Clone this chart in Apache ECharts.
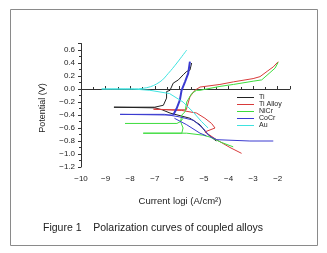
<!DOCTYPE html>
<html>
<head>
<meta charset="utf-8">
<script src="https://cdn.jsdelivr.net/npm/echarts@6/dist/echarts.min.js"></script>
<style>
  html, body { margin: 0; padding: 0; background: #fff; }
  #chart { width: 327px; height: 253px; }
</style>
</head>
<body>
<div id="chart"></div>
<script>
// [log i, E] pairs, in scan order
const tiCurve = [
  [-4.5, -0.80], [-4.89, -0.68], [-5.16, -0.55], [-5.57, -0.45], [-6.38, -0.37],
  [-6.7, -0.32], [-7.0, -0.29], [-8.66, -0.28], [-7.0, -0.28], [-6.65, -0.25],
  [-6.52, -0.14], [-6.52, -0.04], [-6.38, -0.02], [-6.25, 0.09], [-6.04, 0.14],
  [-5.84, 0.22], [-5.70, 0.27], [-5.57, 0.29], [-5.5, 0.40]
]
const tiAlloyCurve = [
  [-3.47, -0.99], [-3.94, -0.90], [-4.49, -0.78], [-4.96, -0.66], [-4.55, -0.60],
  [-4.69, -0.53], [-4.96, -0.45], [-5.30, -0.37], [-5.9, -0.33], [-7.05, -0.31],
  [-6.3, -0.32], [-5.72, -0.32], [-5.57, -0.12], [-5.37, -0.02], [-5.16, 0.03],
  [-4.35, 0.07], [-3.8, 0.11], [-3.0, 0.16], [-2.72, 0.19], [-2.4, 0.28],
  [-2.18, 0.34], [-1.98, 0.42]
]
const niCrCurve = [
  [-3.81, -0.89], [-4.3, -0.82], [-4.75, -0.74], [-5.04, -0.71], [-5.7, -0.68],
  [-7.47, -0.68], [-5.9, -0.68], [-5.85, -0.60], [-5.95, -0.50], [-5.9, -0.40],
  [-5.77, -0.35], [-5.70, -0.20], [-5.50, -0.07], [-5.30, -0.02], [-5.16, -0.02],
  [-4.35, 0.04], [-3.8, 0.07], [-3.0, 0.12], [-2.65, 0.14], [-2.35, 0.24],
  [-2.11, 0.32], [-1.98, 0.41]
]
const niCrCurve2 = [
  [-8.21, -0.53], [-6.1, -0.53], [-5.95, -0.50], [-5.85, -0.45]
]
const coCrCurve = [
  [-2.18, -0.80], [-3.13, -0.80], [-4.48, -0.78], [-4.76, -0.73], [-5.02, -0.61],
  [-5.43, -0.48], [-5.98, -0.43], [-6.6, -0.39], [-8.41, -0.39], [-6.5, -0.40],
  [-6.25, -0.40]
]
const coCrAnodic = [
  [-6.25, -0.40], [-6.11, -0.30], [-5.98, -0.17], [-5.91, -0.02], [-5.77, 0.11],
  [-5.64, 0.24], [-5.57, 0.42]
]
const coCrCurve2 = [
  [-6.2, -0.45], [-5.70, -0.55], [-5.16, -0.68], [-4.9, -0.72]
]
const auCathodic = [
  [-4.83, -0.60], [-5.1, -0.50], [-5.45, -0.35], [-5.85, -0.20], [-6.4, -0.07],
  [-7.2, -0.02], [-7.9, 0.0], [-9.16, 0.0]
]
const auAnodic = [
  [-9.16, 0.0], [-8.0, 0.0], [-7.33, 0.02], [-6.79, 0.11], [-6.45, 0.24],
  [-6.1, 0.40], [-5.70, 0.60]
]
const legendNames = ['Ti', 'Ti Alloy', 'NiCr', 'CoCr', 'Au']

const font = 'Liberation Sans, Arial, sans-serif'
const colors = { Ti: '#222222', 'Ti Alloy': '#d83a3a', NiCr: '#3ddc3d', CoCr: '#3a3ad0', Au: '#3fe3e0' }

const line = (name, data, width = 1, smooth = false) => ({
  name,
  type: 'line',
  data,
  symbol: 'none',
  smooth,
  animation: false,
  lineStyle: { color: colors[name], width },
  itemStyle: { color: colors[name] }
})

const chart = echarts.init(document.getElementById('chart'))
chart.setOption({
  animation: false,
  grid: { left: 81, right: 37, top: 43.5, bottom: 86 },
  legend: {
    data: legendNames,
    orient: 'vertical',
    left: 232,
    top: 89,
    icon: 'rect',
    itemWidth: 17,
    itemHeight: 1,
    itemGap: 0,
    textStyle: { fontFamily: font, fontSize: 7, lineHeight: 7, color: '#222' }
  },
  xAxis: {
    type: 'value',
    min: -10,
    max: -1.5,
    interval: 1,
    axisLine: { lineStyle: { color: '#333', width: 1 } },
    axisTick: { inside: true, length: 3, lineStyle: { color: '#333' } },
    minorTick: { show: true, splitNumber: 2, length: 2, lineStyle: { color: '#333' } },
    axisLabel: { showMaxLabel: false, margin: 8, fontFamily: font, fontSize: 8, color: '#222',
      formatter: v => String(v).replace('-', '−') },
    splitLine: { show: false }
  },
  yAxis: {
    type: 'value',
    min: -1.2,
    max: 0.7,
    interval: 0.2,
    axisLine: { show: true, lineStyle: { color: '#333', width: 1 } },
    axisTick: { show: true, length: 3, lineStyle: { color: '#333' } },
    minorTick: { show: true, splitNumber: 2, length: 2, lineStyle: { color: '#333' } },
    axisLabel: { showMaxLabel: false, margin: 6, fontFamily: font, fontSize: 8, color: '#222',
      formatter: v => v.toFixed(1).replace('-', '−') },
    splitLine: { show: false }
  },
  graphic: [
    {
      type: 'rect',
      shape: { x: 10.5, y: 9.5, width: 307, height: 236 },
      style: { fill: 'none', stroke: '#8a8a8a', lineWidth: 1 },
      silent: true
    },
    {
      // axis titles are centred on the labelled range, not the whole axis
      type: 'text',
      x: 180,
      y: 201,
      style: { text: 'Current logi (A/cm²)', font: '9.5px ' + font, fill: '#222',
        align: 'center', verticalAlign: 'middle' },
      silent: true
    },
    {
      type: 'text',
      x: 43,
      y: 108,
      rotation: Math.PI / 2,
      style: { text: 'Potential (V)', font: '9px ' + font, fill: '#222',
        align: 'center', verticalAlign: 'middle' },
      silent: true
    },
    {
      type: 'text',
      x: 43,
      y: 228,
      style: { text: 'Figure 1    Polarization curves of coupled alloys', font: '10.5px ' + font,
        fill: '#222', verticalAlign: 'middle' },
      silent: true
    }
  ],
  series: [
    line('Ti', tiCurve),
    line('Ti Alloy', tiAlloyCurve),
    line('NiCr', niCrCurve),
    line('NiCr', niCrCurve2),
    line('CoCr', coCrCurve),
    line('CoCr', coCrCurve2),
    line('CoCr', coCrAnodic, 2),
    line('Au', auCathodic),
    line('Au', auAnodic, 1, 0.4)
  ]
})
</script>
</body>
</html>
